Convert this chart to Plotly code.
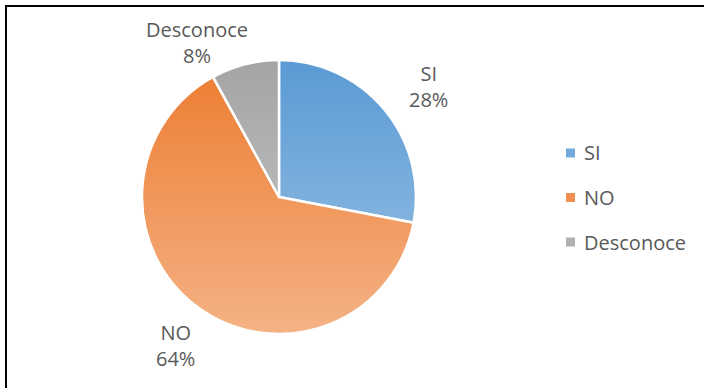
import base64
import struct
import zlib

import plotly.graph_objects as go

# Survey answers and their shares
categories = ["SI", "NO", "Desconoce"]
shares = [28, 64, 8]
colors = ["#5B9BD5", "#ED7D31", "#A5A5A5"]

W, H = 704, 388
TEXT = "#595959"
FONT = "Open Sans"
FSIZE = 20

# Pie placement (pixels, top-left origin)
cx, cy, r = 279, 197, 137


def px(x):
    return x / W


def py(y):
    return 1 - y / H


def white_ramp_png(height=256, top_alpha=0, bottom_alpha=105):
    """1px-wide PNG of white with a vertical alpha ramp (soft top-to-bottom sheen)."""
    rows = b""
    for i in range(height):
        a = int(top_alpha + (bottom_alpha - top_alpha) * i / (height - 1))
        rows += b"\x00" + bytes([255, 255, 255, a])

    def chunk(tag, data):
        c = struct.pack(">I", len(data)) + tag + data
        return c + struct.pack(">I", zlib.crc32(tag + data) & 0xFFFFFFFF)

    png = b"\x89PNG\r\n\x1a\n"
    png += chunk(b"IHDR", struct.pack(">IIBBBBB", 1, height, 8, 6, 0, 0, 0))
    png += chunk(b"IDAT", zlib.compress(rows))
    png += chunk(b"IEND", b"")
    return "data:image/png;base64," + base64.b64encode(png).decode()


fig = go.Figure(
    go.Pie(
        labels=categories,
        values=shares,
        sort=False,
        direction="clockwise",
        rotation=0,
        textinfo="none",
        hoverinfo="label+percent",
        marker=dict(colors=colors, line=dict(color="white", width=2.5)),
        domain=dict(x=[px(cx - r), px(cx + r)], y=[py(cy + r), py(cy - r)]),
        showlegend=False,
    )
)

# Light sheen over the pie
fig.add_layout_image(
    source=white_ramp_png(),
    xref="paper", yref="paper",
    x=px(cx - r), y=py(cy - r),
    sizex=2 * r / W, sizey=2 * r / H,
    xanchor="left", yanchor="top",
    sizing="stretch", layer="above",
)

# Outside data labels
label_pos = {"SI": (428, 86), "NO": (175, 345), "Desconoce": (197, 42)}
total = sum(shares)
for cat, val in zip(categories, shares):
    x, y = label_pos[cat]
    fig.add_annotation(
        x=px(x), y=py(y), xref="paper", yref="paper",
        xanchor="center", yanchor="middle",
        text=f"{cat}<br>{round(100 * val / total)}%",
        showarrow=False, align="center",
        font=dict(family=FONT, size=FSIZE, color=TEXT),
    )

# Legend on the right
leg_x, leg_y0, leg_dy, sq = 566, 153, 44.5, 9
for i, (cat, col) in enumerate(zip(categories, colors)):
    y = leg_y0 + i * leg_dy
    fig.add_shape(
        type="rect", xref="paper", yref="paper",
        x0=px(leg_x), x1=px(leg_x + sq),
        y0=py(y + sq / 2), y1=py(y - sq / 2),
        fillcolor=col, line=dict(width=0), opacity=0.85,
    )
    fig.add_annotation(
        x=px(leg_x + sq + 7), y=py(y), xref="paper", yref="paper",
        text=cat, showarrow=False, xanchor="left", yanchor="middle",
        font=dict(family=FONT, size=FSIZE, color=TEXT),
    )

# Frame edges (top and left)
fig.add_shape(type="line", xref="paper", yref="paper",
              x0=px(5), x1=1, y0=py(6), y1=py(6),
              line=dict(color="black", width=2))
fig.add_shape(type="line", xref="paper", yref="paper",
              x0=px(6), x1=px(6), y0=py(5), y1=0,
              line=dict(color="black", width=2))

fig.update_layout(
    width=W, height=H,
    margin=dict(l=0, r=0, t=0, b=0),
    paper_bgcolor="white",
    plot_bgcolor="white",
    showlegend=False,
)

fig.write_html("out.html")
